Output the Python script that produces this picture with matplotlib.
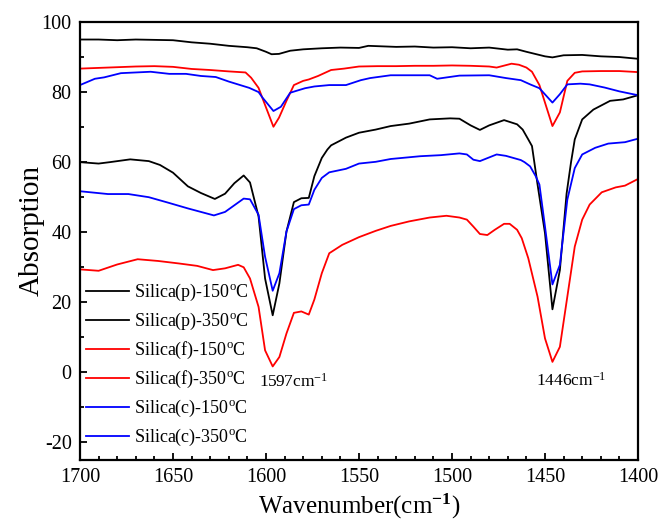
import matplotlib
matplotlib.use("Agg")
import matplotlib.pyplot as plt
from matplotlib.ticker import MultipleLocator

plt.rcParams['font.family'] = ['Liberation Serif', 'DejaVu Serif']
plt.rcParams['mathtext.fontset'] = 'custom'
plt.rcParams['mathtext.rm'] = 'Liberation Serif'
plt.rcParams['mathtext.it'] = 'Liberation Serif:italic'
plt.rcParams['mathtext.bf'] = 'Liberation Serif:bold'
plt.rcParams['axes.unicode_minus'] = False

# ---- data ----
x_p150 = [1700,1690,1680,1670,1660,1650,1640,1630,1620,1610,1605,1600,1597,1593,1587,1580,1570,1560,1550,1545,1540,1530,1520,1510,1500,1490,1480,1470,1465,1460,1450,1446,1440,1430,1420,1410,1400]
y_p150 = [95,95,94.8,95,94.9,94.8,94.2,93.8,93.2,92.8,92.5,91.5,90.8,90.9,91.8,92.2,92.5,92.7,92.6,93.2,93.1,92.9,93,92.7,92.8,92.5,92.7,92.1,92.2,91.5,90.2,89.9,90.5,90.6,90.2,90,89.5]

x_p350 = [1700,1690,1684,1673,1663,1657,1650,1642,1635,1627.5,1622,1617,1612,1608.6,1604,1600.5,1596.4,1592.8,1589,1585,1581,1577,1574,1570,1567,1565,1557,1550,1541,1533,1523,1512,1501,1496,1490,1485,1480,1472,1465,1462,1459,1457,1454,1450,1446,1442,1438.4,1436,1434,1430,1424,1415,1408,1400]
y_p350 = [60,59.6,60,60.8,60.3,59.2,57,53.1,51.2,49.5,51,54,56.2,54.2,44.5,26.8,16.3,25.4,40.2,48.6,49.7,49.8,56,61.2,63.6,64.8,67,68.4,69.3,70.3,71,72.2,72.5,72.4,70.5,69.2,70.5,72,70.8,69.3,66.5,64.6,53.6,39.7,18,29.2,51,60,66.5,72.2,75,77.5,77.9,79.1]

x_f150 = [1700,1690,1680,1670,1660,1650,1640,1630,1620,1611,1608,1604,1601,1596,1593,1589,1585,1580,1577,1572,1565,1558,1550,1540,1530,1520,1510,1500,1490,1480,1476,1468,1464,1460,1457,1453,1446,1442,1438,1434,1430,1420,1410,1400]
y_f150 = [86.7,86.9,87.1,87.3,87.4,87.2,86.6,86.3,85.9,85.6,84.1,81.2,77,70.1,72.7,77.5,82,83.2,83.6,84.6,86.3,86.7,87.3,87.4,87.4,87.5,87.5,87.6,87.5,87.3,87,88.1,87.8,87,85.8,82,70.3,74.2,83.2,85.5,85.9,86,86,85.7]

x_f350 = [1700,1690,1680,1669,1658,1647,1637,1628.5,1622,1615,1612,1608.6,1604,1600.5,1596.4,1592.8,1589,1585,1581,1577,1574,1570,1566,1559,1550,1541,1533,1523,1512,1503,1496,1492,1488.5,1485,1481,1477,1472,1469,1465,1462.5,1459,1454,1450,1446,1442,1438,1434,1430,1426,1419.5,1412,1407,1400]
y_f350 = [29.4,29,30.8,32.3,31.8,31.1,30.4,29.2,29.7,30.7,30,26.8,18.7,6.3,1.7,4.4,11.1,17,17.4,16.5,20.8,28.3,34,36.4,38.6,40.4,41.8,43.1,44.2,44.7,44.2,43.6,41.6,39.5,39.2,40.7,42.4,42.4,40.7,38.3,32.6,21.6,9.7,3,7.3,21.6,35.9,43.6,47.9,51.4,52.8,53.3,55.2]

x_c150 = [1700,1692,1687,1678,1662,1652,1643,1635,1627,1620,1609,1604,1602,1596,1592,1587,1584,1579,1574,1566,1557,1549,1544,1533,1512,1508,1496,1480,1471,1463,1458,1453,1446,1442,1438,1431,1426,1418,1410,1400]
y_c150 = [82,83.8,84.2,85.4,85.8,85.2,85.2,84.6,84.3,83,81.2,80,78.5,74.6,75.8,79.8,80.3,81.1,81.6,82,82,83.4,84,84.8,84.8,83.8,84.7,84.8,84,83.4,82.2,81.1,77,79.4,82.2,82.4,82.2,81.3,80.2,79.1]

x_c350 = [1700,1685,1674,1663,1653,1642,1628,1622,1612,1608.6,1604,1600.5,1596.4,1592.8,1589,1585,1581,1577,1574,1570,1566,1557,1550,1541,1533,1517,1506,1496,1492,1488.5,1485,1476,1471,1463,1461,1458,1455,1453,1450,1446,1442,1438,1434,1430,1423,1416,1407,1400]
y_c350 = [51.7,50.9,50.9,50,48.5,46.8,44.8,45.8,49.6,49.4,45,33,23.3,28.3,40.2,46.6,47.7,47.9,52.1,55.5,57.1,58.1,59.6,60.1,60.9,61.7,62,62.5,62.2,60.7,60.3,62.2,61.8,60.6,60,58.8,56,53.6,41.6,25.1,30.7,49.3,58.3,62.2,64.1,65.3,65.7,66.7]

labels = [r'Silica(p)-150$^{\mathrm{o}}$C', r'Silica(p)-350$^{\mathrm{o}}$C',
          r'Silica(f)-150$^{\mathrm{o}}$C', r'Silica(f)-350$^{\mathrm{o}}$C',
          r'Silica(c)-150$^{\mathrm{o}}$C', r'Silica(c)-350$^{\mathrm{o}}$C']
colors = ['black', 'black', 'red', 'red', 'blue', 'blue']
xticks = [1700, 1650, 1600, 1550, 1500, 1450, 1400]
yticks = [-20, 0, 20, 40, 60, 80, 100]
peak_labels = [(1585, -2.8, r'1597cm$^{\mathrm{-1}}$'), (1436, -2.5, r'1446cm$^{\mathrm{-1}}$')]

series = [(x_p150, y_p150), (x_p350, y_p350), (x_f150, y_f150),
          (x_f350, y_f350), (x_c150, y_c150), (x_c350, y_c350)]

fig = plt.figure(figsize=(6.59, 5.25), dpi=100)
ax = fig.add_axes([80/659, 1-460/525, (638-80)/659, (460-22)/525])

for (xs, ys), c, lab in zip(series, colors, labels):
    ax.plot(xs, ys, color=c, lw=1.3, label=lab)

ax.set_xlim(1700, 1400)
ax.set_ylim(-25, 100)
ax.set_xticks(xticks)
ax.set_yticks(yticks)
ax.xaxis.set_minor_locator(MultipleLocator(10))
ax.yaxis.set_minor_locator(MultipleLocator(10))
ax.tick_params(which='both', direction='in', top=False, right=False, labelsize=14.5, width=1.3)
ax.tick_params(which='major', length=5, pad=6)
ax.tick_params(which='minor', length=3)
for s in ax.spines.values():
    s.set_linewidth(1.6)

ax.set_xlabel(r'Wavenumber(cm$^{\mathbf{-1}}$)', fontsize=18, labelpad=3)
ax.set_ylabel('Absorption', fontsize=21, labelpad=5)
ax.yaxis.set_label_coords(-0.063, 0.525)

for px, py, t in peak_labels:
    ax.text(px, py, t, ha='center', va='center', fontsize=12.5)

leg = ax.legend(loc='upper left', bbox_to_anchor=(86/659, 1-282/525),
                bbox_transform=fig.transFigure, frameon=False, fontsize=13,
                handlelength=2.4, handletextpad=0.25, labelspacing=0.44,
                borderpad=0, borderaxespad=0)

fig.savefig('out.png', dpi=100)
